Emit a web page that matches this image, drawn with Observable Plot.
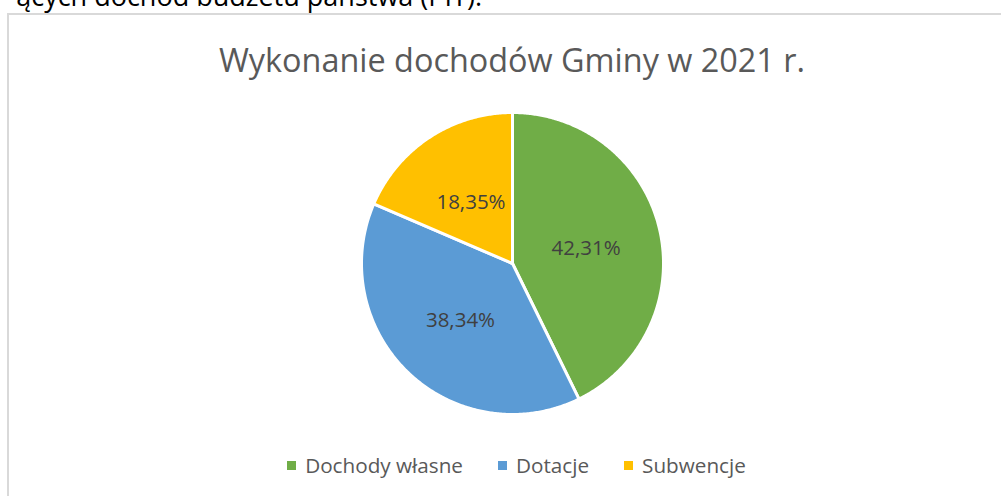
<!DOCTYPE html>
<html><head><meta charset="utf-8">
<script src="https://cdn.jsdelivr.net/npm/d3@7"></script>
<script src="https://cdn.jsdelivr.net/npm/@observablehq/plot@0.6"></script>
<style>
html,body{margin:0;padding:0;background:#fff;}
body{width:1001px;height:496px;overflow:hidden;position:relative;font-family:"Open Sans",sans-serif;}
#above{position:absolute;right:519px;top:-18px;font-size:27px;line-height:27px;color:#000;white-space:nowrap;}
#frame{position:absolute;left:7px;top:13px;width:1100px;height:600px;border-left:2px solid #d9d9d9;border-top:2px solid #d9d9d9;}
#title{position:absolute;left:0;width:1024px;top:43.2px;font-size:32.4px;line-height:32.4px;color:#595959;text-align:center;white-space:nowrap;}
#chart{position:absolute;left:351px;top:102px;}
#legend{position:absolute;left:0;width:1033px;top:455px;height:20px;display:flex;justify-content:center;align-items:center;gap:35px;font-size:20.7px;line-height:20.7px;color:#595959;}
.item{display:flex;align-items:center;white-space:nowrap;}
.sw{width:9px;height:9px;margin-right:9px;}
</style></head><body>
<div id="above"></div>
<div id="frame"></div>
<div id="title"></div>
<div id="chart"></div>
<div id="legend"></div>
<script>
const categories = ["Dochody własne", "Dotacje", "Subwencje"];
const values = [42.31, 38.34, 18.35];
const colors = ["#70AD47", "#5B9BD5", "#FFC000"];
const titleText = "Wykonanie dochodów Gminy w 2021 r.";
const precedingText = "ących dochód budżetu państwa (PIT).";

document.getElementById("above").textContent = precedingText;
document.getElementById("title").textContent = titleText;

const data = categories.map((name, i) => ({name, value: values[i]}));
const arcs = d3.pie().sort(null).value(d => d.value)(data);
const pt = (a, r) => [r * Math.sin(a), -r * Math.cos(a)];
const features = arcs.map(a => {
  const ring = [[0, 0]];
  const n = Math.max(2, Math.ceil((a.endAngle - a.startAngle) / (Math.PI / 360)));
  for (let k = 0; k <= n; k++) ring.push(pt(a.startAngle + (a.endAngle - a.startAngle) * k / n, 1));
  ring.push([0, 0]);
  return {type: "Feature", properties: {name: a.data.name, value: a.data.value},
          geometry: {type: "Polygon", coordinates: [ring]}};
});
const labels = arcs.map(a => {
  const [x, y] = pt((a.startAngle + a.endAngle) / 2, 0.5);
  return {x, y, label: a.data.value.toFixed(2).replace(".", ",") + "%"};
});

const chart = Plot.plot({
  width: 322,
  height: 322,
  margin: 10,
  style: {background: "transparent", overflow: "visible"},
  projection: {type: "identity", domain: {type: "MultiPoint", coordinates: [[-1, -1], [1, 1]]}, clip: false},
  color: {domain: categories, range: colors},
  marks: [
    Plot.geo(features, {fill: d => d.properties.name, stroke: "white", strokeWidth: 3}),
    Plot.text(labels, {x: "x", y: "y", text: "label", dy: 2, fontSize: 20.5, fill: "#404040", fontFamily: "Open Sans"})
  ]
});
document.getElementById("chart").appendChild(chart);

const legend = document.getElementById("legend");
categories.forEach((c, i) => {
  const item = document.createElement("div");
  item.className = "item";
  const sw = document.createElement("div");
  sw.className = "sw";
  sw.style.background = colors[i];
  const t = document.createElement("span");
  t.textContent = c;
  item.appendChild(sw);
  item.appendChild(t);
  legend.appendChild(item);
});
</script>
</body></html>
